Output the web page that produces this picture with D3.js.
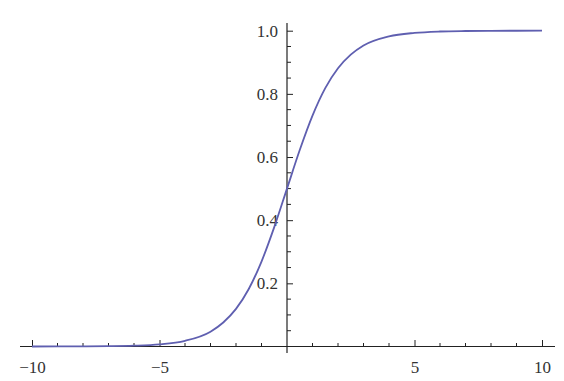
<!DOCTYPE html>
<html>
<head>
<meta charset="utf-8">
<script src="https://cdn.jsdelivr.net/npm/d3@7"></script>
<style>
  html, body { margin: 0; padding: 0; background: #fff; }
  .tick text { font-family: "Liberation Serif", serif; fill: #333; }
</style>
</head>
<body>
<div id="chart"></div>
<script>
// values (logistic-looking curve)
const xValues = [-10, -9, -8, -7, -6, -5, -4, -3, -2.5, -2, -1.5, -1, -0.5, 0, 0.5, 1, 1.5, 2, 2.5, 3, 4, 5, 6, 7, 8, 9, 10];
const yValues = [0.0000, 0.0001, 0.0003, 0.0009, 0.0025, 0.0067, 0.018, 0.047, 0.076, 0.119, 0.182, 0.269, 0.378, 0.5, 0.622, 0.731, 0.818, 0.881, 0.924, 0.953, 0.982, 0.993, 0.9975, 0.9991, 0.9997, 0.9999, 1.0];

const xTickValues = [-10, -5, 5, 10];
const xTickLabels = ["\u221210", "\u22125", "5", "10"];
const yTickValues = [0.2, 0.4, 0.6, 0.8, 1.0];
const yTickLabels = ["0.2", "0.4", "0.6", "0.8", "1.0"];

const CURVE_COLOR = "#5f5fb0";

let width = 564, height = 381;
let svg = null, x = null, y = null;

renderChart();

function renderChart() {
  svg = d3.select("#chart").append("svg")
    .attr("width", width)
    .attr("height", height);

  x = d3.scaleLinear().domain([-10, 10]).range([32, 542]);
  y = d3.scaleLinear().domain([0, 1]).range([346.5, 30.7]);

  appendXAxis();
  appendYAxis();
  appendCurve();
}

function appendXAxis() {
  // axis line
  svg.append("line")
    .attr("x1", 20).attr("x2", 555)
    .attr("y1", y(0)).attr("y2", y(0))
    .attr("stroke", "#222").attr("stroke-width", 1.2);

  // minor ticks every 1 unit
  let minor = d3.range(-10, 11, 1).filter(v => v !== 0 && v % 5 !== 0);
  svg.append("g").selectAll("line")
    .data(minor)
    .enter().append("line")
    .attr("x1", d => x(d)).attr("x2", d => x(d))
    .attr("y1", y(0)).attr("y2", y(0) - 3.5)
    .attr("stroke", "#222").attr("stroke-width", 1);

  let axis = d3.axisBottom(x)
    .tickValues(xTickValues)
    .tickFormat((d, i) => xTickLabels[i])
    .tickSize(-6.5)
    .tickPadding(14);

  let g = svg.append("g")
    .attr("transform", `translate(0, ${y(0)})`)
    .call(axis);
  g.select(".domain").remove();
  g.selectAll(".tick line").attr("stroke", "#222").attr("stroke-width", 1);
  g.selectAll(".tick text").style("font-size", "17px");
}

function appendYAxis() {
  svg.append("line")
    .attr("x1", x(0)).attr("x2", x(0))
    .attr("y1", 23).attr("y2", 353)
    .attr("stroke", "#222").attr("stroke-width", 1.2);

  let minor = d3.range(1, 20).map(v => v * 0.05).filter((v, i) => (i + 1) % 4 !== 0);
  svg.append("g").selectAll("line")
    .data(minor)
    .enter().append("line")
    .attr("x1", x(0)).attr("x2", x(0) + 4)
    .attr("y1", d => y(d)).attr("y2", d => y(d))
    .attr("stroke", "#222").attr("stroke-width", 1);

  let axis = d3.axisLeft(y)
    .tickValues(yTickValues)
    .tickFormat((d, i) => yTickLabels[i])
    .tickSize(-6)
    .tickPadding(9);

  let g = svg.append("g")
    .attr("transform", `translate(${x(0)}, 0)`)
    .call(axis);
  g.select(".domain").remove();
  g.selectAll(".tick line").attr("stroke", "#222").attr("stroke-width", 1);
  g.selectAll(".tick text").style("font-size", "17px");
}

function appendCurve() {
  let points = xValues.map((v, i) => ({x: v, y: yValues[i]}));
  let line = d3.line()
    .x(d => x(d.x))
    .y(d => y(d.y))
    .curve(d3.curveMonotoneX);

  svg.append("path")
    .datum(points)
    .attr("fill", "none")
    .attr("stroke", CURVE_COLOR)
    .attr("stroke-width", 1.8)
    .attr("stroke-linejoin", "round")
    .attr("d", line);
}
</script>
</body>
</html>
